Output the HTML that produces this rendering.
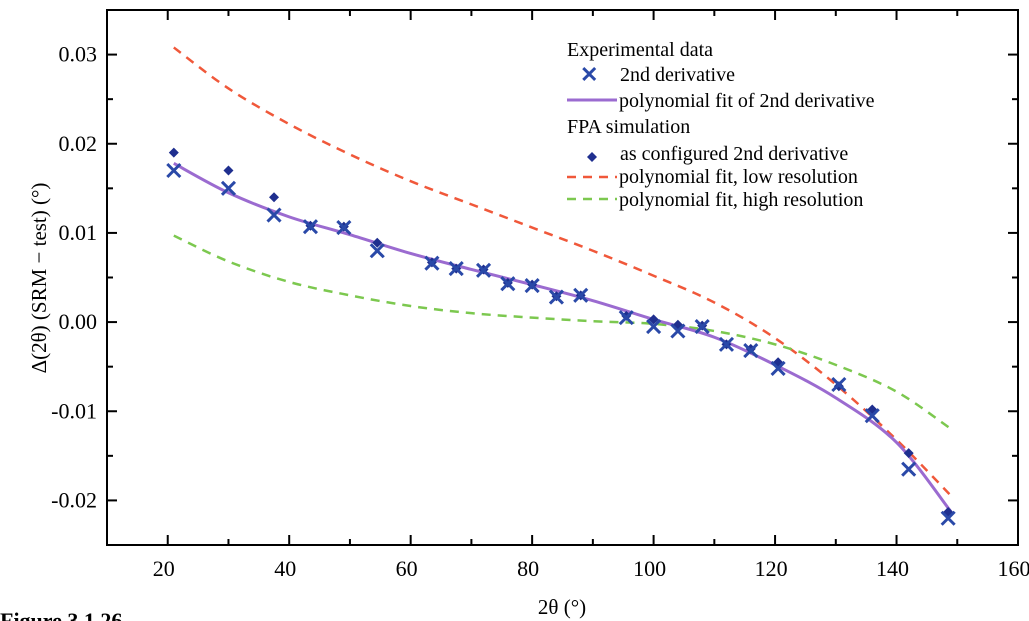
<!DOCTYPE html>
<html><head><meta charset="utf-8"><style>
html,body{margin:0;padding:0;background:#fff;}
svg{display:block;font-family:"Liberation Serif",serif;}
</style></head><body>
<svg id="chart" width="1029" height="621" viewBox="0 0 1029 621" xmlns="http://www.w3.org/2000/svg">
<g id="marks"></g>
<rect x="107" y="10" width="911" height="535" fill="none" stroke="#000" stroke-width="2"/>
<g id="axes"></g>
<text transform="translate(46,278) rotate(-90)" text-anchor="middle" font-size="21">Δ(2θ) (SRM − test) (°)</text>
<text x="562" y="614" text-anchor="middle" font-size="21">2θ (°)</text>
<text x="0" y="628" font-size="22" font-weight="bold">Figure 3.1.26</text>
<g font-size="20">
<text x="567" y="56">Experimental data</text>
<text x="580" y="82" font-family="Liberation Sans,sans-serif" font-size="22" fill="#2a49a8" font-weight="bold">✕</text>
<text x="620" y="81">2nd derivative</text>
<line x1="567" y1="100" x2="617" y2="100" stroke="#9b6bd0" stroke-width="3"/>
<text x="619" y="107">polynomial fit of 2nd derivative</text>
<text x="567" y="133">FPA simulation</text>
<path d="M592,152 l5,5 l-5,5 l-5,-5z" fill="#1f2f8f"/>
<text x="620" y="160">as configured 2nd derivative</text>
<line x1="567" y1="177" x2="617" y2="177" stroke="#f0583a" stroke-width="2.5" stroke-dasharray="9,7"/>
<text x="619" y="183">polynomial fit, low resolution</text>
<line x1="567" y1="199" x2="617" y2="199" stroke="#7cc84f" stroke-width="2.5" stroke-dasharray="9,7"/>
<text x="619" y="206">polynomial fit, high resolution</text>
</g>
</svg>
<script>
const expX=[21,30,37.5,43.5,49,54.5,63.5,67.5,72,76,80,84,88,95.5,100,104,108,112,116,120.5,130.5,136,142,148.5];
const expY=[0.017,0.015,0.012,0.0107,0.0106,0.008,0.0066,0.006,0.0058,0.0043,0.0041,0.0028,0.003,0.0005,-0.0005,-0.001,-0.0005,-0.0025,-0.0032,-0.0052,-0.007,-0.0105,-0.0165,-0.022];
const simY=[0.019,0.017,0.014,0.0108,0.0107,0.0089,0.0067,0.006,0.0059,0.0044,0.0042,0.0029,0.003,0.0007,0.0003,-0.0003,-0.0004,-0.0025,-0.003,-0.0045,-0.0072,-0.0098,-0.0147,-0.0213];
const fitX=[21,30,40,50,60,70,80,90,100,110,120,130,140,149];
const fitPurple=[0.0178,0.0145,0.0118,0.0098,0.0077,0.0059,0.0042,0.0024,0.0003,-0.0017,-0.0048,-0.0085,-0.0135,-0.0213];
const fitRed=[0.0308,0.0262,0.0222,0.0188,0.0158,0.0132,0.0106,0.008,0.0052,0.0022,-0.0018,-0.007,-0.0132,-0.0195];
const fitGreen=[0.0097,0.0068,0.0045,0.003,0.0018,0.001,0.0005,0.0001,-0.0002,-0.001,-0.0025,-0.0048,-0.0078,-0.012];
const xTicks=[20,40,60,80,100,120,140,160];
const yTicks=[0.03,0.02,0.01,0.00,-0.01,-0.02];
const yTickLabels=["0.03","0.02","0.01","0.00","-0.01","-0.02"];

const L=107,R=1018,T=10,B=545,X0=10,X1=160,Y0=-0.025,Y1=0.035;
const sx=v=>L+(v-X0)/(X1-X0)*(R-L);
const sy=v=>B-(v-Y0)/(Y1-Y0)*(B-T);
const NS="http://www.w3.org/2000/svg";
const marks=document.getElementById('marks'),axes=document.getElementById('axes');
function mk(tag,attrs,parent){const e=document.createElementNS(NS,tag);for(const k in attrs)e.setAttribute(k,attrs[k]);parent.appendChild(e);return e;}
function smooth(xs,ys){let p=xs.map((x,i)=>[sx(x),sy(ys[i])]);let d="M"+p[0][0]+","+p[0][1];
for(let i=0;i<p.length-1;i++){const p0=p[i-1]||p[i],p1=p[i],p2=p[i+1],p3=p[i+2]||p2;
d+=" C"+(p1[0]+(p2[0]-p0[0])/6)+","+(p1[1]+(p2[1]-p0[1])/6)+" "+(p2[0]-(p3[0]-p1[0])/6)+","+(p2[1]-(p3[1]-p1[1])/6)+" "+p2[0]+","+p2[1];}return d;}
let e;
e=mk('path',{d:smooth(fitX,fitRed),fill:'none',stroke:'#f0583a','stroke-width':2.5,'stroke-dasharray':'9,7'},marks);


e=mk('path',{d:smooth(fitX,fitGreen),fill:'none',stroke:'#7cc84f','stroke-width':2.5,'stroke-dasharray':'9,7'},marks);


e=mk('path',{d:smooth(fitX,fitPurple),fill:'none',stroke:'#9b6bd0','stroke-width':3},marks);


expX.forEach((x,i)=>{
 const cx=sx(x),cy=sy(simY[i]);
 const d=mk('path',{d:`M${cx},${cy-5} l5,5 l-5,5 l-5,-5z`,fill:'#1f2f8f'},marks);
 
 
});
expX.forEach((x,i)=>{
 const cx=sx(x),cy=sy(expY[i]),s=6.5;
 const g=mk('path',{d:`M${cx-s},${cy-s}L${cx+s},${cy+s}M${cx+s},${cy-s}L${cx-s},${cy+s}`,stroke:'#2a49a8','stroke-width':3,fill:'none'},marks);
 
 
});
for(let v=20;v<=160;v+=10){const x=sx(v),big=v%20===0;
 mk('line',{x1:x,y1:B,x2:x,y2:B-(big?10:6),stroke:'#000','stroke-width':2},axes);
 mk('line',{x1:x,y1:T,x2:x,y2:T+(big?10:6),stroke:'#000','stroke-width':2},axes);}
xTicks.forEach(v=>{const t=mk('text',{x:sx(v)-4,y:576,'text-anchor':'middle','font-size':22},axes);t.textContent=v;
 
 });
for(let k=-5;k<=7;k++){const v=k*0.005;const y=sy(v);if(y<T||y>B)continue;const big=k%2===0;
 mk('line',{x1:L,y1:y,x2:L+(big?10:6),y2:y,stroke:'#000','stroke-width':2},axes);
 mk('line',{x1:R,y1:y,x2:R-(big?10:6),y2:y,stroke:'#000','stroke-width':2},axes);}
yTicks.forEach((v,i)=>{const t=mk('text',{x:97,y:sy(v)+7,'text-anchor':'end','font-size':22},axes);t.textContent=yTickLabels[i];
 
 });
</script>
</body></html>
